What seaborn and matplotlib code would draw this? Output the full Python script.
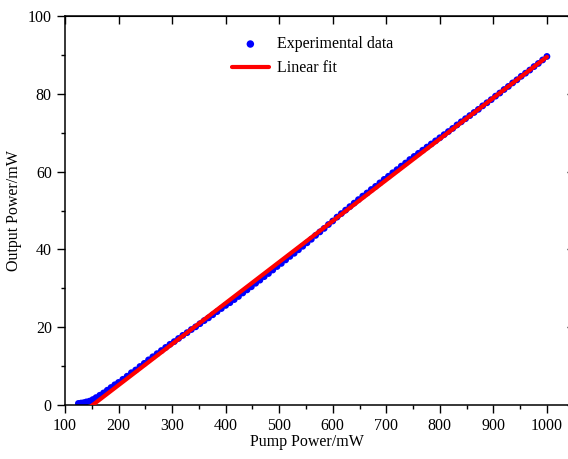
import numpy as np
import pandas as pd
import matplotlib
matplotlib.use("Agg")
import matplotlib.pyplot as plt
import seaborn as sns

# measured points (pump power in mW, output power in mW)
pump_mw = [125, 130, 135, 140, 146, 152, 158, 165, 172, 179, 186, 193, 200, 208, 216, 224,
           232, 240, 248, 256, 264, 272, 280, 288, 296, 304, 312, 320, 328, 336, 344, 352,
           360, 368, 376, 384, 392, 400, 408, 416, 424, 432, 440, 448, 456, 464, 472, 480,
           488, 496, 504, 512, 520, 528, 536, 544, 552, 560, 568, 576, 584, 592, 600, 608,
           616, 624, 632, 640, 648, 656, 664, 672, 680, 688, 696, 704, 712, 720, 728, 736,
           744, 752, 760, 768, 776, 784, 792, 800, 808, 816, 824, 832, 840, 848, 856, 864,
           872, 880, 888, 896, 904, 912, 920, 928, 936, 944, 952, 960, 968, 976, 984, 992, 1000]
output_mw = [0.4, 0.5, 0.6, 0.8, 1.0, 1.4, 1.9, 2.5, 3.1, 3.8, 4.5, 5.2, 5.8, 6.6, 7.4, 8.3,
             9.0, 9.9, 10.7, 11.6, 12.4, 13.2, 14.0, 14.8, 15.6, 16.3, 17.1, 17.9, 18.6, 19.4, 20.1, 20.9,
             21.7, 22.4, 23.2, 24.0, 24.8, 25.6, 26.3, 27.1, 27.9, 28.8, 29.6, 30.4, 31.3, 32.1, 33.0, 33.8,
             34.7, 35.6, 36.4, 37.3, 38.2, 39.0, 39.9, 40.8, 41.7, 42.6, 43.6, 44.5, 45.4, 46.4, 47.3, 48.3,
             49.2, 50.1, 51.0, 51.9, 52.8, 53.7, 54.5, 55.4, 56.2, 57.1, 58.0, 58.8, 59.7, 60.5, 61.4, 62.2,
             63.1, 63.9, 64.7, 65.5, 66.3, 67.1, 67.9, 68.7, 69.5, 70.3, 71.1, 72.0, 72.8, 73.6, 74.4, 75.2,
             76.0, 76.9, 77.7, 78.5, 79.4, 80.2, 81.1, 81.9, 82.8, 83.6, 84.5, 85.3, 86.1, 87.0, 87.8, 88.7, 89.6]

# linear fit coefficients
fit_slope = 0.1055
fit_intercept = -16.0

df = pd.DataFrame({"pump": pump_mw, "output": output_mw})
fit_x = np.array([min(pump_mw), max(pump_mw)])
fit_df = pd.DataFrame({"pump": fit_x, "output": fit_slope * fit_x + fit_intercept})

sns.set_style("ticks", {"axes.edgecolor": "black", "text.color": "black",
                        "xtick.color": "black", "ytick.color": "black",
                        "axes.labelcolor": "black"})
plt.rcParams['font.family'] = ['Liberation Serif', 'DejaVu Serif']
plt.rcParams['font.size'] = 11.5

fig = plt.figure(figsize=(5.68, 4.59), dpi=100)
ax = fig.add_axes([65 / 568, 54 / 459, 508.7 / 568, 389 / 459])

sns.scatterplot(data=df, x="pump", y="output", ax=ax, color="blue", s=24,
                edgecolor="none", label="Experimental data", zorder=2)
sns.lineplot(data=fit_df, x="pump", y="output", ax=ax, color="red", linewidth=3,
             label="Linear fit", zorder=3)

ax.set_xlim(100, 1050)
ax.set_ylim(0, 100)
ax.set_xticks(range(100, 1001, 100))
ax.set_xticks(range(150, 1001, 100), minor=True)
ax.set_yticks(range(0, 101, 20))
ax.set_yticks(range(10, 100, 20), minor=True)
ax.tick_params(which="major", direction="out", length=6, width=1, labelsize=11.5)
ax.tick_params(which="minor", direction="out", length=3, width=1)
for sp in ax.spines.values():
    sp.set_linewidth(1.1)
    sp.set_visible(True)

top = ax.secondary_xaxis("top")
top.set_xticks(range(100, 1001, 100))
top.tick_params(direction="in", length=6, width=1, labeltop=False)
right = ax.secondary_yaxis("right")
right.set_yticks(range(0, 101, 20))
right.tick_params(direction="in", length=5, width=1, labelright=False)

ax.set_xlabel("Pump Power/mW", fontsize=11.5)
ax.set_ylabel("Output Power/mW", fontsize=11.5)
ax.xaxis.set_label_coords(0.475, -0.075)
ax.yaxis.set_label_coords(-0.085, 0.5)

ax.legend(loc="upper left", bbox_to_anchor=(0.3, 0.985), frameon=False,
          fontsize=11.5, handlelength=2.3, handletextpad=0.5,
          markerscale=1.1, labelspacing=0.5)

fig.savefig("out.png", dpi=100)
